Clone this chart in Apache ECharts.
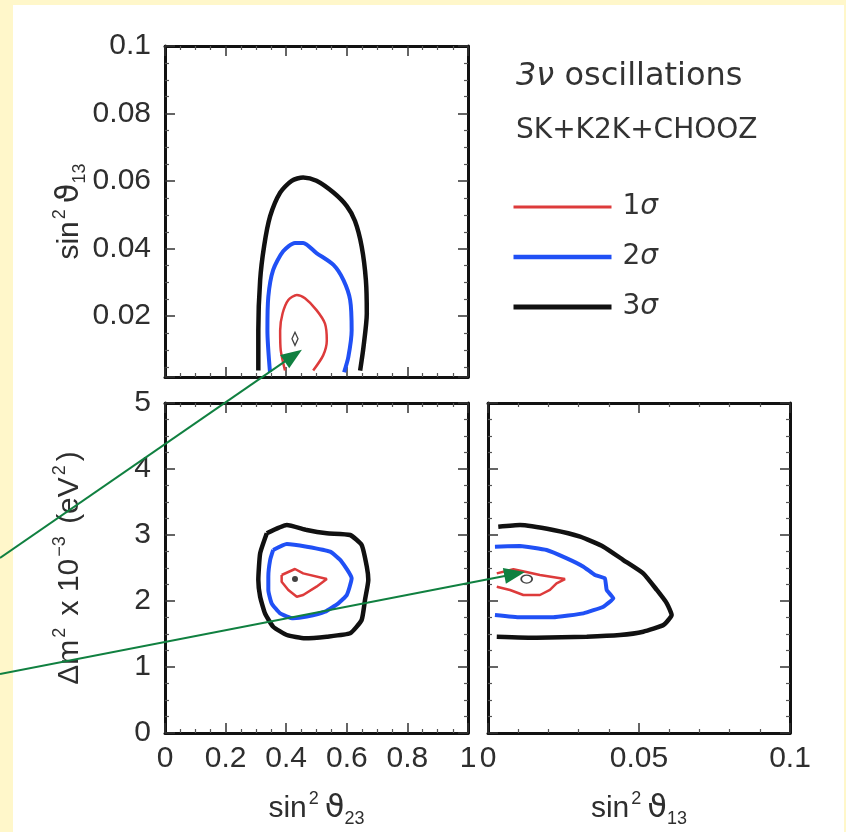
<!DOCTYPE html>
<html><head><meta charset="utf-8">
<script src="https://cdn.jsdelivr.net/npm/echarts@6/dist/echarts.min.js"></script>
<style>
html,body{margin:0;padding:0;background:#fff7ca;width:846px;height:832px;overflow:hidden;}
#panel{position:absolute;left:13px;top:5px;width:831px;height:827px;background:#fff;}
#chart{position:absolute;left:0;top:0;width:846px;height:832px;}
</style></head><body><div id="panel"></div><div id="chart"></div>
<script>
// ---- data: contour polylines [x, y] ----
// Top panel: x = sin^2 theta23, y = sin^2 theta13
const top1 = [[0.396,0.0039],[0.382,0.0099],[0.380,0.0158],[0.388,0.0208],[0.407,0.0248],[0.435,0.0263],[0.462,0.0253],[0.50,0.0218],[0.528,0.0178],[0.534,0.0128],[0.522,0.0084],[0.489,0.0039]];
const top2 = [[0.3465,0.0034],[0.338,0.0158],[0.341,0.0258],[0.357,0.0337],[0.390,0.0392],[0.429,0.0417],[0.456,0.0417],[0.50,0.0387],[0.556,0.0352],[0.589,0.0307],[0.611,0.0248],[0.616,0.0158],[0.605,0.0079],[0.591,0.0034]];
const top3 = [[0.308,0.0039],[0.308,0.0158],[0.314,0.0307],[0.327,0.0407],[0.347,0.0496],[0.380,0.0566],[0.418,0.0601],[0.456,0.0611],[0.50,0.0601],[0.556,0.0566],[0.60,0.0526],[0.627,0.0482],[0.649,0.0407],[0.663,0.0307],[0.666,0.0208],[0.655,0.0108],[0.644,0.0039]];
const topBest = [[0.429,0.0133]];
// Bottom-left: x = sin^2 theta23, y = dm^2 (1e-3 eV^2)
const bl1 = [[0.385,2.394],[0.429,2.485],[0.456,2.419],[0.534,2.333],[0.50,2.217],[0.456,2.091],[0.435,2.065],[0.407,2.167],[0.385,2.293],[0.385,2.394]];
const bl2 = [[0.357,2.773],[0.402,2.864],[0.468,2.823],[0.545,2.747],[0.583,2.596],[0.616,2.343],[0.60,2.091],[0.572,1.965],[0.528,1.838],[0.468,1.763],[0.423,1.737],[0.380,1.813],[0.352,1.965],[0.341,2.167],[0.341,2.369],[0.347,2.621],[0.357,2.773]];
const bl3 = [[0.336,3.026],[0.402,3.152],[0.468,3.076],[0.534,3.026],[0.611,3.0],[0.649,2.848],[0.666,2.52],[0.671,2.318],[0.660,2.015],[0.649,1.712],[0.611,1.51],[0.534,1.46],[0.462,1.435],[0.402,1.485],[0.357,1.61],[0.330,1.813],[0.314,2.065],[0.308,2.318],[0.314,2.722],[0.336,3.026]];
const blBest = [[0.429,2.333]];
// Bottom-right: x = sin^2 theta13, y = dm^2
const br1 = [[0.0029,2.419],[0.0084,2.48],[0.0123,2.444],[0.0172,2.394],[0.0255,2.333],[0.0227,2.268],[0.0205,2.167],[0.0172,2.091],[0.0117,2.091],[0.0073,2.167],[0.0029,2.217]];
const br2 = [[0.0023,2.823],[0.0106,2.833],[0.0194,2.773],[0.0261,2.646],[0.0316,2.52],[0.0354,2.394],[0.0387,2.343],[0.0393,2.167],[0.0415,2.04],[0.0382,1.914],[0.0316,1.813],[0.0216,1.753],[0.0106,1.753],[0.0023,1.788]];
const br3 = [[0.0034,3.126],[0.0106,3.152],[0.0216,3.076],[0.0305,2.975],[0.0382,2.823],[0.0448,2.621],[0.0514,2.419],[0.0559,2.167],[0.0592,1.965],[0.0608,1.788],[0.0581,1.636],[0.0514,1.535],[0.0437,1.485],[0.0327,1.46],[0.0161,1.444],[0.0029,1.46]];
const brBest = [[0.0128,2.333]];
// legend / text
const levels = ['1σ','2σ','3σ'];
const titleLine2 = 'SK+K2K+CHOOZ';
// arrow tips (data coords)
const arrowTipTop = [0.452, 0.0101];
const arrowTipBR = [0.01225, 2.44];

const chart = echarts.init(document.getElementById('chart'), null, {renderer:'canvas'});
const TXT = '#2e2e2e';
const LF = 'Liberation Sans';
const colors = {'1σ':'#dd3b3b','2σ':'#2050f5','3σ':'#111111'};
const widths = {'1σ':2.5,'2σ':4,'3σ':4.5};

const nameRich = {
  n:{fontSize:30,fontFamily:LF,color:TXT,lineHeight:38},
  t:{fontSize:32,fontFamily:'DejaVu Sans',color:TXT,lineHeight:38,padding:[0,0,0,2]},
  sup:{fontSize:18,fontFamily:LF,color:TXT,lineHeight:18,verticalAlign:'top',padding:[0,4,0,2]},
  sub:{fontSize:18,fontFamily:LF,color:TXT,lineHeight:10,verticalAlign:'bottom'}
};

function axis(kind, grid, pos, min, max, interval, minorSplit, showLabel, name, nameGap, fmt){
  const a = {
    type:'value', gridIndex:grid, position:pos, min:min, max:max,
    axisLine:{show:true,onZero:false,lineStyle:{color:'#111',width:3}},
    axisTick:{show:true,inside:true,length:10,lineStyle:{color:'#333',width:1.5}},
    minorTick:{show:true,splitNumber:minorSplit,length:4,lineStyle:{color:'#555',width:1.2}},
    splitLine:{show:false},
    axisLabel:{show:showLabel,color:TXT,fontSize:30,fontFamily:LF,margin:kind==='x'?11:14}
  };
  if (interval != null) a.interval = interval;
  if (fmt) a.axisLabel.formatter = fmt;
  if (name){
    a.name = name; a.nameLocation='middle'; a.nameGap=nameGap;
    a.nameTextStyle = {rich:nameRich};
  }
  return a;
}
const fmtTop = v => v < 0.01 ? '' : String(Math.round(v*100)/100);

const xAxis = [
  axis('x',0,'bottom',0,1,0.2,4,false),
  axis('x',0,'top',0,1,0.2,4,false),
  axis('x',1,'bottom',0,1,0.2,4,true,'{n|sin}{sup|2}{t|ϑ}{sub|23}',57),
  axis('x',1,'top',0,1,0.2,4,false),
  axis('x',2,'bottom',0,0.1,0.05,5,true,'{n|sin}{sup|2}{t|ϑ}{sub|13}',57),
  axis('x',2,'top',0,0.1,0.05,5,false)
];
const yAxis = [
  axis('y',0,'left',0.002,0.1,null,4,true,'{n|sin}{sup|2}{t|ϑ}{sub|13}',74,fmtTop),
  axis('y',0,'right',0.002,0.1,null,4,false),
  axis('y',1,'left',0,5,1,4,true,'{n|Δm}{sup|2}{n| x 10}{sup|−3}{n| (eV}{sup|2}{n|)}',76),
  axis('y',1,'right',0,5,1,4,false),
  axis('y',2,'left',0,5,1,4,false),
  axis('y',2,'right',0,5,1,4,false)
];

function contour(name, data, ax, smooth){
  return {type:'line', name:name, data:data, xAxisIndex:ax, yAxisIndex:ax,
    symbol:'none', showSymbol:false, smooth:smooth, animation:false,
    lineStyle:{color:colors[name], width:widths[name]}, itemStyle:{color:colors[name], opacity:0},
    emphasis:{disabled:true}, z:3};
}
function best(data, ax, symbol, size, hollow){
  return {type:'scatter', name:'best', data:data, xAxisIndex:ax, yAxisIndex:ax,
    symbol:symbol, symbolSize:size, animation:false, emphasis:{disabled:true}, z:5,
    itemStyle: hollow ? {color:'#fff',borderColor:'#111',borderWidth:1.5} : {color:'#111'}};
}

const series = [
  contour('3σ',top3,0,0.25), contour('2σ',top2,0,0.25), contour('1σ',top1,0,0.25),
  best(topBest,0,'diamond',[6,13],true),
  contour('3σ',bl3,2,0.15), contour('2σ',bl2,2,0.15), contour('1σ',bl1,2,0),
  best(blBest,2,'circle',6,false),
  contour('3σ',br3,4,0.15), contour('2σ',br2,4,0.1), contour('1σ',br1,4,0),
  best(brBest,4,'circle',[11,8],true)
];

chart.setOption({
  backgroundColor:'transparent',
  animation:false,
  title:[
    {left:511, top:56, text:'{i|3ν} oscillations',
     textStyle:{fontFamily:'DejaVu Sans',fontSize:32,fontWeight:'normal',color:'#333',
       rich:{i:{fontFamily:'DejaVu Sans',fontSize:32,fontStyle:'italic',color:'#333'}}}},
    {left:511, top:112, text:titleLine2,
     textStyle:{fontFamily:'DejaVu Sans',fontSize:28,fontWeight:'normal',color:'#333'}}
  ],
  legend:{
    data: levels.map(n => ({name:n, lineStyle:{color:colors[n], width:widths[n]+0.5, type:'solid'}})),
    orient:'vertical', left:506, top:188, itemWidth:98, itemHeight:30, itemGap:22,
    selectedMode:false,
    itemStyle:{opacity:0},
    formatter: n => n[0] + '{s|σ}',
    textStyle:{fontFamily:'DejaVu Sans',fontSize:28,color:'#333',padding:[0,0,0,6],
      rich:{s:{fontFamily:'DejaVu Sans',fontSize:28,fontStyle:'italic',color:'#333'}}}
  },
  grid:[
    {left:165, top:46, width:303, height:331},
    {left:165, top:403, width:303, height:330},
    {left:488, top:403, width:302, height:330}
  ],
  xAxis:xAxis, yAxis:yAxis, series:series
});

function arrowEls(tail, tip){
  const dx = tip[0]-tail[0], dy = tip[1]-tail[1];
  const len = Math.sqrt(dx*dx+dy*dy), ux = dx/len, uy = dy/len;
  const L = 21, W = 8;
  const bx = tip[0]-ux*L, by = tip[1]-uy*L;
  const px = -uy, py = ux;
  const col = '#108040';
  return [
    {type:'line', shape:{x1:tail[0],y1:tail[1],x2:bx+ux*3,y2:by+uy*3}, style:{stroke:col,lineWidth:2}, z:100, silent:true},
    {type:'polygon', shape:{points:[[tip[0],tip[1]],[bx+px*W,by+py*W],[bx-px*W,by-py*W]]}, style:{fill:col}, z:100, silent:true}
  ];
}
const t1 = chart.convertToPixel({xAxisIndex:0, yAxisIndex:0}, arrowTipTop);
const t2 = chart.convertToPixel({xAxisIndex:4, yAxisIndex:4}, arrowTipBR);
chart.setOption({graphic: arrowEls([0,558], t1).concat(arrowEls([0,674], t2))});
</script></body></html>
